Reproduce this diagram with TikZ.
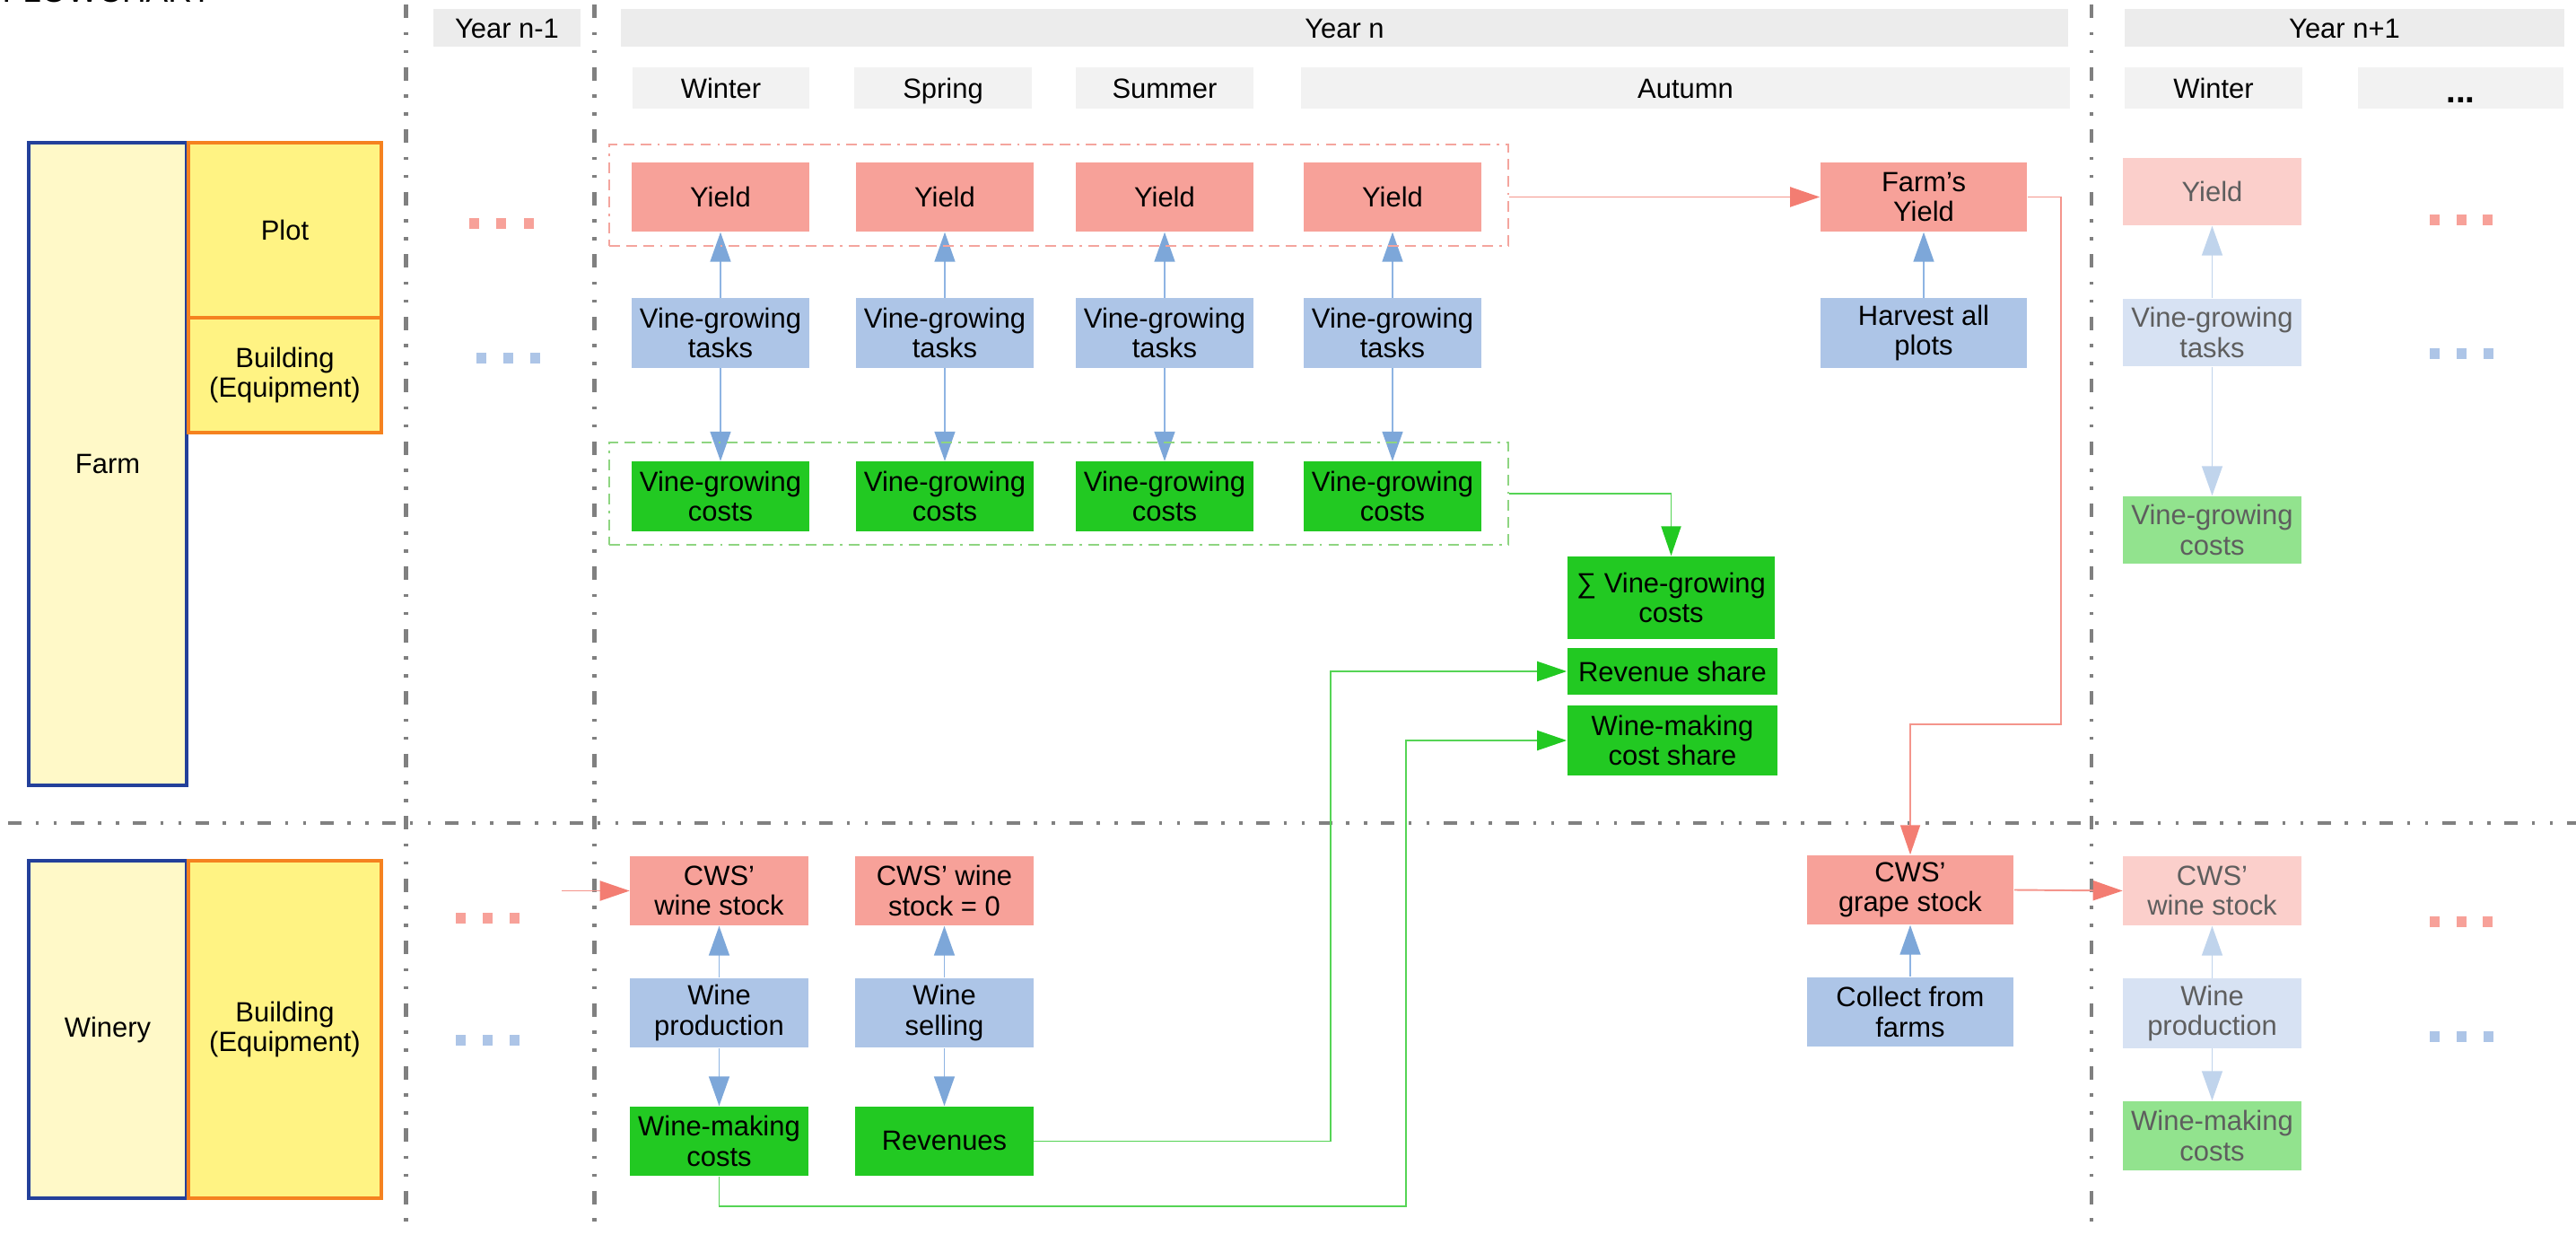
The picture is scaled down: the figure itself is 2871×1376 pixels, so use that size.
\documentclass[tikz,border=0pt]{standalone}
\usepackage{fontspec}
\setmainfont{Liberation Sans}
\usetikzlibrary{arrows.meta}
\definecolor{yieldc}{HTML}{F7A199}
\definecolor{taskc}{HTML}{ADC5E7}
\definecolor{costc}{HTML}{22C922}
\definecolor{yieldf}{HTML}{FBCFCB}
\definecolor{taskf}{HTML}{D7E2F3}
\definecolor{costf}{HTML}{92E38E}
\definecolor{fadetxt}{HTML}{5E5E5E}
\definecolor{hdrc}{HTML}{ECECEC}
\definecolor{ssnc}{HTML}{F2F2F2}
\definecolor{farmfill}{HTML}{FFF9C8}
\definecolor{farmdraw}{HTML}{23409A}
\definecolor{plotfill}{HTML}{FFF383}
\definecolor{plotdraw}{HTML}{F5821F}
\definecolor{redline}{HTML}{F4958C}
\definecolor{redtip}{HTML}{F37D72}
\definecolor{greenline}{HTML}{55D455}
\definecolor{greentip}{HTML}{22C922}
\definecolor{blueline}{HTML}{8EB4E3}
\definecolor{bluetip}{HTML}{7DA7D9}
\definecolor{bluefade}{HTML}{C0D4EC}
\definecolor{rgrpc}{HTML}{F4A59E}
\definecolor{ggrpc}{HTML}{8ED581}
\definecolor{sepc}{HTML}{808080}
\newcommand\boxfont{\fontsize{8.8pt}{9.5pt}\selectfont}
\begin{document}
\begin{tikzpicture}[x=0.01cm, y=-0.01cm,
  box/.style={rectangle, inner sep=0pt, align=center, font=\boxfont, text=black, minimum height=0.77cm},
  wcol/.style={minimum width=1.98cm},
  ycol/.style={box, fill=yieldc},
  tcol/.style={box, fill=taskc},
  ccol/.style={box, fill=costc},
  fyb/.style={box, wcol, fill=yieldf, text=fadetxt},
  ftb/.style={box, wcol, fill=taskf, text=fadetxt},
  fcb/.style={box, wcol, fill=costf, text=fadetxt},
  hdr/.style={rectangle, inner sep=0pt, fill=hdrc, minimum height=0.42cm, font=\boxfont, text height=6.3pt, text depth=0pt},
  ssn/.style={rectangle, inner sep=0pt, fill=ssnc, minimum height=0.46cm, font=\boxfont, text height=6.3pt, text depth=0pt},
  farmb/.style={rectangle, inner sep=0pt, fill=farmfill, draw=farmdraw, line width=1pt, align=center, font=\boxfont},
  plotb/.style={rectangle, inner sep=0pt, fill=plotfill, draw=plotdraw, line width=1pt, align=center, font=\boxfont},
  sep/.style={draw=sepc, line width=1.15pt, dash pattern=on 4.27pt off 4.41pt on 1pt off 4.69pt on 1pt off 4.41pt},
  grp/.style={rectangle, inner sep=0pt, line width=0.5pt, dash pattern=on 3.4pt off 2pt on 3.4pt off 2pt on 3.4pt off 2pt on 0.8pt off 2pt},
  barrow/.style={draw=blueline, line width=0.45pt, -{Triangle[length=3.3mm,width=2.3mm,color=bluetip]}},
  bfarrow/.style={draw=bluefade, line width=0.45pt, -{Triangle[length=3.3mm,width=2.3mm,color=bluefade]}},
  rarrow/.style={draw=redline, line width=0.55pt, -{Triangle[length=3.3mm,width=2.2mm,color=redtip]}},
  garrow/.style={draw=greenline, line width=0.55pt, -{Triangle[length=3.3mm,width=2.2mm,color=greentip]}},
]
\useasboundingbox (0,0) rectangle (2871,1376);

% title (cut at the top)
\node[anchor=base west, inner sep=0pt, font=\fontsize{10.5pt}{12pt}\selectfont] (title) at (2,2.5) {FLOWCHART};

% separators
\draw[sep] (452.5,5) -- (452.5,1376);
\draw[sep] (662.5,5) -- (662.5,1376);
\draw[sep] (2331,5) -- (2331,1376);
\draw[sep] (9,917) -- (2871,917);

% headers
\node[hdr, minimum width=1.64cm] (hn1) at (565,31) {Year n-1};
\node[hdr, minimum width=16.13cm] (hn) at (1498.5,31) {Year n};
\node[hdr, minimum width=4.90cm] (hn2) at (2613,31) {Year n+1};
\node[ssn, minimum width=1.97cm] (s1) at (803.5,98) {Winter};
\node[ssn, minimum width=1.98cm] (s2) at (1051,98) {Spring};
\node[ssn, minimum width=1.98cm] (s3) at (1298,98) {Summer};
\node[ssn, minimum width=8.57cm] (s4) at (1878.5,98) {Autumn};
\node[ssn, minimum width=1.98cm] (s5) at (2467,98) {Winter};
\node[ssn, minimum width=2.29cm] (s6) at (2742.5,98) {};
\node[anchor=base, inner sep=0pt, font=\fontsize{11pt}{12pt}\selectfont\bfseries] (s6dots) at (2742.5,115) {...};

% left column
\node[farmb, minimum width=1.76cm, minimum height=7.16cm] (farm) at (120,517) {Farm};
\node[plotb, minimum width=2.15cm, minimum height=1.95cm] (plot) at (317.5,256.5) {Plot};
\node[plotb, minimum width=2.15cm, minimum height=1.28cm] (bld1) at (317.5,418) {Building\\(Equipment)};
\node[farmb, minimum width=1.76cm, minimum height=3.76cm] (winery) at (120,1147) {Winery};
\node[plotb, minimum width=2.15cm, minimum height=3.76cm] (bld2) at (317.5,1147) {Building\\(Equipment)};

% continuation dots
\foreach \x in {528,558,589} \fill[yieldc] (\x-5.5,243) rectangle (\x+5.5,255);
\foreach \x in {536,566,596} \fill[taskc] (\x-5.5,393) rectangle (\x+5.5,405);
\foreach \x in {513,543,573} \fill[yieldc] (\x-5.5,1017) rectangle (\x+5.5,1029);
\foreach \x in {513,543,573} \fill[taskc] (\x-5.5,1153) rectangle (\x+5.5,1165);
\foreach \x in {2713,2743,2772} \fill[yieldc] (\x-5.5,239) rectangle (\x+5.5,251);
\foreach \x in {2713,2743,2773} \fill[taskc] (\x-5.5,388) rectangle (\x+5.5,400);
\foreach \x in {2713,2743,2772} \fill[yieldc] (\x-5.5,1021) rectangle (\x+5.5,1033);
\foreach \x in {2713,2743,2773} \fill[taskc] (\x-5.5,1149) rectangle (\x+5.5,1161);

% Year n, farm rows
\foreach \i/\cx in {1/803,2/1053,3/1298,4/1552} {
  \node[ycol, wcol] (y\i) at (\cx,219.5) {Yield};
  \node[tcol, wcol] (t\i) at (\cx,371) {Vine-growing\\tasks};
  \node[ccol, wcol] (c\i) at (\cx,553) {Vine-growing\\costs};
  \draw[barrow] (t\i) -- (y\i);
  \draw[barrow] (t\i) -- (c\i);
}
\node[grp, draw=rgrpc, minimum width=10.02cm, minimum height=1.13cm] (rgrp) at (1180,217.5) {};
\node[grp, draw=ggrpc, minimum width=10.02cm, minimum height=1.14cm] (ggrp) at (1180,550) {};

\node[ycol, minimum width=2.30cm] (fy) at (2144,219.5) {Farm’s\\Yield};
\node[tcol, minimum width=2.30cm] (hv) at (2144,371) {Harvest all\\plots};
\node[ccol, minimum width=2.31cm, minimum height=0.92cm] (sv) at (1862.5,666) {∑ Vine-growing\\costs};
\node[ccol, minimum width=2.34cm, minimum height=0.52cm] (rs) at (1864,748) {Revenue share};
\node[ccol, minimum width=2.34cm, minimum height=0.78cm] (wcs) at (1864,825) {Wine-making\\cost share};
\draw[barrow] (hv) -- (fy);

% Year n, winery rows
\node[ycol, wcol] (ws) at (801.5,992.5) {CWS’\\wine stock};
\node[ycol, wcol] (ws0) at (1052.5,992.5) {CWS’ wine\\stock = 0};
\node[tcol, wcol] (wp) at (801.5,1128.5) {Wine\\production};
\node[tcol, wcol] (wsl) at (1052.5,1128.5) {Wine\\selling};
\node[ccol, wcol] (wmc) at (801.5,1271.5) {Wine-making\\costs};
\node[ccol, wcol] (rev) at (1052.5,1271.5) {Revenues};
\node[ycol, minimum width=2.30cm] (gs) at (2129,991.5) {CWS’\\grape stock};
\node[tcol, minimum width=2.30cm] (cf) at (2129,1127.5) {Collect from\\farms};
\draw[barrow] (wp) -- (ws);
\draw[barrow] (wp) -- (wmc);
\draw[barrow] (wsl) -- (ws0);
\draw[barrow] (wsl) -- (rev);
\draw[barrow] (cf) -- (gs);

% Year n+1 (faded)
\node[fyb, minimum height=0.75cm] (ny) at (2465.5,213.5) {Yield};
\node[ftb, minimum height=0.75cm] (nt) at (2465.5,370.5) {Vine-growing\\tasks};
\node[fcb, minimum height=0.75cm] (nc) at (2465.5,590.5) {Vine-growing\\costs};
\node[fyb] (nws) at (2465.5,992.5) {CWS’\\wine stock};
\node[ftb] (nwp) at (2465.5,1129) {Wine\\production};
\node[fcb] (nwm) at (2465.5,1265.5) {Wine-making\\costs};
\draw[bfarrow] (nt) -- (ny);
\draw[bfarrow] (nt) -- (nc);
\draw[bfarrow] (nwp) -- (nws);
\draw[bfarrow] (nwp) -- (nwm);

% flows
\coordinate (rc1) at (2297,807);
\coordinate (inl) at (626,992.5);
\coordinate (gc1) at (1483,748);
\coordinate (gc2) at (1567,1344);
\draw[rarrow] (rgrp.east |- fy.west) -- (fy.west);
\draw[rarrow] (fy.east) -| (rc1) -| (gs.north);
\draw[rarrow] (inl) -- (ws.west);
\draw[rarrow] (gs.east) -- (nws.west);
\draw[garrow] (ggrp.east) -| (sv.north);
\draw[garrow] (rev.east) -| (gc1) -- (rs.west);
\draw[garrow] (wmc.south) |- (gc2) |- (wcs.west);
\end{tikzpicture}
\end{document}
